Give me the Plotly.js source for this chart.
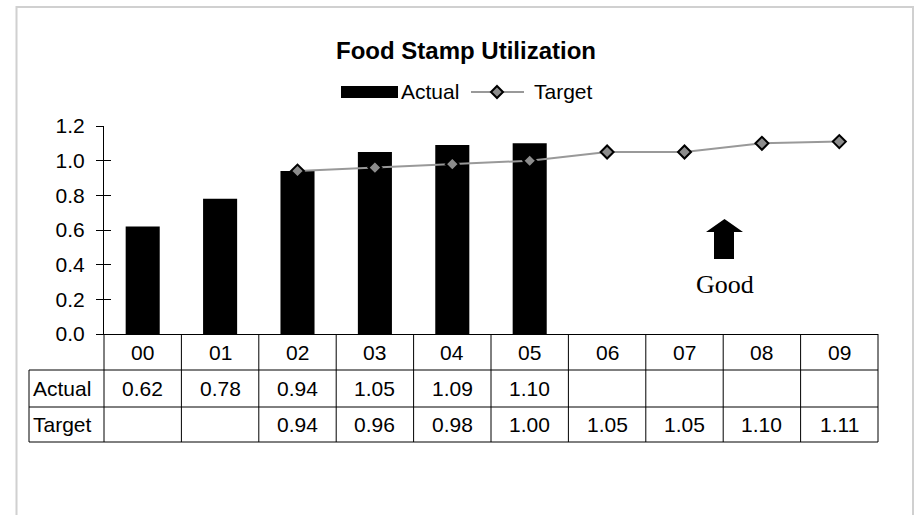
<!DOCTYPE html>
<html>
<head>
<meta charset="utf-8">
<script src="https://cdn.plot.ly/plotly-3.0.1.min.js"></script>
<style>html,body{margin:0;padding:0;background:#fff;}#chart{width:915px;height:515px;}</style>
</head>
<body>
<div id="chart"></div>
<script>
var categories = ['00','01','02','03','04','05','06','07','08','09'];
var actualValues = [0.62, 0.78, 0.94, 1.05, 1.09, 1.10, null, null, null, null];
var targetValues = [null, null, 0.94, 0.96, 0.98, 1.00, 1.05, 1.05, 1.10, 1.11];
var yTickValues = [0, 0.2, 0.4, 0.6, 0.8, 1.0, 1.2];
var seriesNames = ['Actual', 'Target'];
var titleText = 'Food Stamp Utilization';
var noteText = 'Good';

var FONT = 'Liberation Sans, Arial, sans-serif';
var L = 104, R = 878, T = 126, B = 334, W = 915, H = 515;
var pw = R - L, ph = B - T;
function px(x) { return (x - L) / pw; }
function py(y) { return (B - y) / ph; }

var traces = [
  {type: 'bar', x: categories, y: actualValues, name: seriesNames[0],
   marker: {color: '#000000'}, width: 0.44, showlegend: false, hoverinfo: 'x+y'},
  {type: 'scatter', mode: 'lines+markers', x: categories, y: targetValues, name: seriesNames[1],
   line: {color: '#999999', width: 2},
   marker: {symbol: 'diamond', size: 10, color: '#8c8c8c', line: {color: '#000000', width: 2}},
   connectgaps: false, showlegend: false},
  {type: 'scatter', x: categories, y: targetValues, yaxis: 'y2', mode: 'none', showlegend: false, hoverinfo: 'skip'}
];

var shapes = [];
var annotations = [];
var lineStyle = {color: '#000000', width: 1};
// outer frame
shapes.push({type: 'rect', xref: 'paper', yref: 'paper', x0: px(16.5), x1: px(913), y0: py(530), y1: py(7),
  line: {color: '#d0d0d0', width: 2}, fillcolor: 'rgba(0,0,0,0)', layer: 'below'});

// data table
var rowY = [B, 370, 407, 442];
var n = categories.length;
for (var k = 0; k <= n; k++) {
  shapes.push({type: 'line', xref: 'paper', yref: 'paper', x0: k / n, x1: k / n, y0: py(rowY[0]), y1: py(rowY[3]), line: lineStyle});
}
for (var r = 1; r < rowY.length; r++) {
  shapes.push({type: 'line', xref: 'paper', yref: 'paper', x0: px(29), x1: 1, y0: py(rowY[r]), y1: py(rowY[r]), line: lineStyle});
}
shapes.push({type: 'line', xref: 'paper', yref: 'paper', x0: px(29), x1: px(29), y0: py(rowY[1]), y1: py(rowY[3]), line: lineStyle});

var cellFont = {family: FONT, size: 21, color: '#000000'};
function cellY(r) { return py((rowY[r] + rowY[r + 1]) / 2); }
categories.forEach(function (c, i) {
  annotations.push({xref: 'x', yref: 'paper', x: c, y: cellY(0), text: c, showarrow: false, font: cellFont, xanchor: 'center', yanchor: 'middle'});
  if (actualValues[i] !== null) annotations.push({xref: 'x', yref: 'paper', x: c, y: cellY(1), text: actualValues[i].toFixed(2), showarrow: false, font: cellFont, xanchor: 'center', yanchor: 'middle'});
  if (targetValues[i] !== null) annotations.push({xref: 'x', yref: 'paper', x: c, y: cellY(2), text: targetValues[i].toFixed(2), showarrow: false, font: cellFont, xanchor: 'center', yanchor: 'middle'});
});
annotations.push({xref: 'paper', yref: 'paper', x: px(31), y: cellY(1), text: seriesNames[0], showarrow: false, font: cellFont, xanchor: 'left', yanchor: 'middle'});
annotations.push({xref: 'paper', yref: 'paper', x: px(31), y: cellY(2), text: seriesNames[1], showarrow: false, font: cellFont, xanchor: 'left', yanchor: 'middle'});

// legend
var legY = py(92);
shapes.push({type: 'rect', xref: 'paper', yref: 'paper', x0: px(341), x1: px(398), y0: py(98), y1: py(86), fillcolor: '#000000', line: {width: 0}});
annotations.push({xref: 'paper', yref: 'paper', x: px(399), y: legY, text: seriesNames[0], showarrow: false, font: cellFont, xanchor: 'left', yanchor: 'middle'});
shapes.push({type: 'line', xref: 'paper', yref: 'paper', x0: px(471), x1: px(524), y0: legY, y1: legY, line: {color: '#999999', width: 2}});
var dcx = px(497), dhx = 6 / pw, dhy = 6 / ph;
shapes.push({type: 'path', xref: 'paper', yref: 'paper',
  path: 'M' + dcx + ',' + (legY + dhy) + ' L' + (dcx + dhx) + ',' + legY + ' L' + dcx + ',' + (legY - dhy) + ' L' + (dcx - dhx) + ',' + legY + ' Z',
  fillcolor: '#8c8c8c', line: {color: '#000000', width: 2}});
annotations.push({xref: 'paper', yref: 'paper', x: px(532), y: legY, text: seriesNames[1], showarrow: false, font: cellFont, xanchor: 'left', yanchor: 'middle'});

// "Good" arrow
shapes.push({type: 'path', xref: 'paper', yref: 'paper',
  path: 'M' + px(724.5) + ',' + py(219) + ' L' + px(743) + ',' + py(232) + ' L' + px(734) + ',' + py(232) + ' L' + px(734) + ',' + py(259) +
        ' L' + px(714) + ',' + py(259) + ' L' + px(714) + ',' + py(232) + ' L' + px(706) + ',' + py(232) + ' Z',
  fillcolor: '#000000', line: {width: 0}});
annotations.push({xref: 'paper', yref: 'paper', x: px(724.5), y: py(284), text: noteText, showarrow: false,
  font: {family: 'Liberation Serif, Times New Roman, serif', size: 26, color: '#000000'}, xanchor: 'center', yanchor: 'middle'});

var layout = {
  width: W, height: H,
  margin: {l: L, r: W - R, t: T, b: H - B, pad: 0},
  paper_bgcolor: '#ffffff', plot_bgcolor: '#ffffff',
  title: {text: '<b>' + titleText + '</b>', font: {family: FONT, size: 24, color: '#000000'},
    x: 466 / W, xanchor: 'center', y: 1 - 51 / H, yanchor: 'middle', xref: 'container', yref: 'container'},
  showlegend: false,
  xaxis: {type: 'category', categoryarray: categories, range: [-0.5, n - 0.5], showticklabels: false, ticks: '',
    showgrid: false, zeroline: false, showline: true, linecolor: '#000000', linewidth: 1, fixedrange: true},
  yaxis: {range: [0, 1.2], tickvals: yTickValues, tickformat: '.1f', ticks: 'outside', ticklen: 7, tickcolor: '#000000', tickwidth: 1,
    ticklabelstandoff: 7, showgrid: false, zeroline: false, showline: true, linecolor: '#000000', linewidth: 1,
    tickfont: {family: FONT, size: 21, color: '#000000'}, fixedrange: true},
  yaxis2: {overlaying: 'y', side: 'left', range: [0, 1.2], tickvals: yTickValues, ticks: 'inside', ticklen: 7, tickcolor: '#000000', tickwidth: 1,
    showticklabels: false, showgrid: false, zeroline: false, showline: false, fixedrange: true},
  shapes: shapes,
  annotations: annotations,
  bargap: 0.56
};

Plotly.newPlot('chart', traces, layout, {displayModeBar: false, staticPlot: true});
</script>
</body>
</html>
